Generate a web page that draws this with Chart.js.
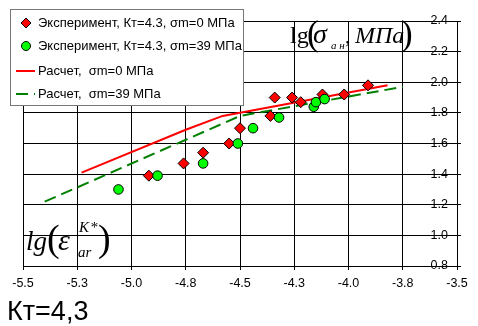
<!DOCTYPE html>
<html>
<head>
<meta charset="utf-8">
<script src="https://cdn.jsdelivr.net/npm/chart.js@4/dist/chart.umd.min.js"></script>
<style>
  html, body { margin: 0; padding: 0; background: #fff; }
</style>
</head>
<body>
<canvas id="ktChart" width="478" height="326"></canvas>
<script>
const xTickLabels = ['-5.5', '-5.3', '-5.0', '-4.8', '-4.5', '-4.3', '-4.0', '-3.8', '-3.5'];
const yTickLabels = ['0.8', '1.0', '1.2', '1.4', '1.6', '1.8', '2.0', '2.2', '2.4'];

const seriesNames = [
    'Эксперимент, Кт=4.3, σm=0 МПа',
    'Эксперимент, Кт=4.3, σm=39 МПа',
    'Расчет,  σm=0 МПа',
    'Расчет,  σm=39 МПа'
];

// experiment, sigma m = 0 MPa
const exp0X = [-4.92, -4.76, -4.67, -4.55, -4.50, -4.36, -4.34, -4.26, -4.22, -4.12, -4.02, -3.91];
const exp0Y = [1.39, 1.47, 1.54, 1.60, 1.70, 1.78, 1.90, 1.90, 1.87, 1.92, 1.92, 1.98];
// experiment, sigma m = 39 MPa
const exp39X = [-5.06, -4.88, -4.67, -4.51, -4.44, -4.32, -4.16, -4.15, -4.11];
const exp39Y = [1.30, 1.39, 1.47, 1.60, 1.70, 1.77, 1.84, 1.87, 1.89];
// calculation
const calc0X = [-5.23, -4.75, -4.58, -3.82];
const calc0Y = [1.41, 1.69, 1.78, 1.98];
const calc39X = [-5.40, -4.50, -3.75];
const calc39Y = [1.22, 1.78, 1.97];

const toPts = (xs, ys) => xs.map((x, i) => ({ x: x, y: ys[i] }));
const SANS = 'Arial, "Liberation Sans", sans-serif';
const SERIF = '"Times New Roman", "Liberation Serif", serif';

// legend box drawn by hand, same look as the original
const legendBox = {
    id: 'legendBox',
    afterDraw(chart) {
        const c = chart.ctx;
        const ds = chart.data.datasets;
        c.save();
        c.fillStyle = '#fff';
        c.fillRect(10.5, 9.5, 233, 96);
        c.strokeStyle = '#777';
        c.lineWidth = 1;
        c.strokeRect(10.5, 9.5, 233, 96);
        c.font = '13px ' + SANS;
        c.textBaseline = 'middle';
        const rows = [23, 46, 71, 94];
        ds.forEach((d, r) => {
            const y = rows[r];
            if (d.showLine === false) {
                c.fillStyle = d.backgroundColor;
                c.strokeStyle = '#000';
                c.lineWidth = 1;
                c.beginPath();
                if (d.pointStyle === 'rectRot') {
                    c.moveTo(26, y - 5); c.lineTo(31, y); c.lineTo(26, y + 5); c.lineTo(21, y);
                    c.closePath();
                } else {
                    c.arc(26, y, 4.5, 0, Math.PI * 2);
                }
                c.fill(); c.stroke();
            } else {
                c.strokeStyle = d.borderColor;
                c.lineWidth = d.borderWidth;
                c.setLineDash(d.borderDash || []);
                c.beginPath();
                c.moveTo(16, y); c.lineTo(35, y);
                c.stroke();
                c.setLineDash([]);
            }
            c.fillStyle = '#000';
            c.fillText(d.label, 38, y);
        });
        c.restore();
    }
};

// the axis formulas and the caption
const captions = {
    id: 'captions',
    afterDraw(chart) {
        const c = chart.ctx;
        c.save();
        c.fillStyle = '#000';
        c.textBaseline = 'alphabetic';
        // lg(σ a н, МПа)
        c.font = '24px ' + SERIF;
        c.fillText('lg', 290, 43);
        c.font = '35px ' + SERIF;
        c.fillText('(', 307, 45);
        c.font = 'italic 28px ' + SERIF;
        c.fillText('σ', 313, 43);
        c.font = 'italic 11px ' + SERIF;
        c.fillText('а н', 331, 49);
        c.font = '22px ' + SERIF;
        c.fillText(',', 345, 43);
        c.font = 'italic 24px ' + SERIF;
        c.fillText('МПа', 355, 43);
        c.font = '35px ' + SERIF;
        c.fillText(')', 401, 45);
        // lg(ε ar K*)
        c.font = 'italic 27px ' + SERIF;
        c.fillText('lg', 26, 250);
        c.font = '38px ' + SERIF;
        c.fillText('(', 47, 251);
        c.font = 'italic 30px ' + SERIF;
        c.fillText('ε', 58, 250);
        c.font = 'italic 15px ' + SERIF;
        c.fillText('K', 79, 232);
        c.fillText('*', 90, 232);
        c.fillText('ar', 78, 257);
        c.font = '38px ' + SERIF;
        c.fillText(')', 98, 251);
        // caption under the chart
        c.font = '27px ' + SANS;
        c.fillText('Кт=4,3', 7, 320);
        c.restore();
    }
};

new Chart(document.getElementById('ktChart'), {
    type: 'scatter',
    data: {
        datasets: [
            {
                label: seriesNames[0],
                data: toPts(exp0X, exp0Y),
                showLine: false,
                pointStyle: 'rectRot',
                pointRadius: 5.5,
                backgroundColor: '#ff0000',
                borderColor: '#000',
                borderWidth: 1,
                order: 1
            },
            {
                label: seriesNames[1],
                data: toPts(exp39X, exp39Y),
                showLine: false,
                pointStyle: 'circle',
                pointRadius: 4.8,
                backgroundColor: '#00ff00',
                borderColor: '#000',
                borderWidth: 1,
                order: 0
            },
            {
                label: seriesNames[2],
                data: toPts(calc0X, calc0Y),
                showLine: true,
                pointRadius: 0,
                borderColor: '#ff0000',
                borderWidth: 2,
                tension: 0,
                order: 2
            },
            {
                label: seriesNames[3],
                data: toPts(calc39X, calc39Y),
                showLine: true,
                pointRadius: 0,
                borderColor: '#008000',
                borderWidth: 2,
                borderDash: [12, 6],
                tension: 0,
                order: 3
            }
        ]
    },
    options: {
        responsive: false,
        animation: false,
        events: [],
        layout: { padding: { left: 23, top: 21, right: 0, bottom: 32 } },
        plugins: { legend: { display: false }, tooltip: { enabled: false } },
        scales: {
            x: {
                type: 'linear',
                position: 'bottom',
                min: -5.5,
                max: -3.5,
                afterFit: s => { s.height = 28; },
                ticks: {
                    stepSize: 0.25,
                    autoSkip: false,
                    maxRotation: 0,
                    padding: 6,
                    color: '#000',
                    font: { family: SANS, size: 12.5 },
                    callback: (v, i) => xTickLabels[i]
                },
                grid: { color: '#000', lineWidth: 1, tickLength: 4, tickColor: '#000' },
                border: { color: '#000' }
            },
            y: {
                type: 'linear',
                position: 'right',
                min: 0.8,
                max: 2.4,
                afterFit: s => { s.width = 21; },
                ticks: {
                    stepSize: 0.2,
                    mirror: true,
                    padding: -9,
                    color: '#000',
                    font: { family: SANS, size: 12.5 },
                    callback: (v, i) => yTickLabels[i]
                },
                grid: { color: '#000', lineWidth: 1, tickLength: 4, tickColor: '#000' },
                border: { color: '#000' }
            }
        }
    },
    plugins: [legendBox, captions]
});
</script>
</body>
</html>
